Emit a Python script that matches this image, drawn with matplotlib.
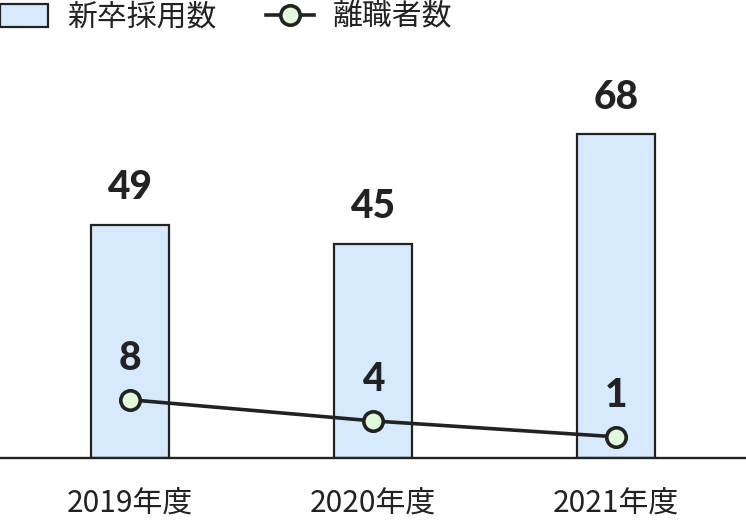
import matplotlib
matplotlib.use("Agg")
import matplotlib.pyplot as plt
from matplotlib.patches import Patch
from matplotlib.lines import Line2D

categories = ["2019年度", "2020年度", "2021年度"]
hires = [49, 45, 68]
leavers = [8, 4, 1]
legend_labels = ["新卒採用数", "離職者数"]

plt.rcParams['font.family'] = ['Noto Sans CJK JP', 'DejaVu Sans']
DARK = "#222222"
BAR_FILL = "#d6e9fd"
MARK_FILL = "#e2f8da"

fig = plt.figure(figsize=(7.46, 5.2), dpi=100)
ax = fig.add_axes([0, 1 - 458 / 520, 1, 418 / 520])
x = list(range(len(categories)))

ax.bar(x, hires, width=0.32, color=BAR_FILL, edgecolor=DARK, linewidth=1.6, zorder=2)
ax.set_xlim(-0.535, 2.535)
ax.set_ylim(0, 87.8)
for s in ["top", "left", "right"]:
    ax.spines[s].set_visible(False)
ax.spines["bottom"].set_color(DARK)
ax.spines["bottom"].set_linewidth(1.7)
ax.set_yticks([])
ax.set_xticks(x)
ax.set_xticklabels(categories, fontsize=21.5, color=DARK)
ax.tick_params(axis="x", length=0, pad=22)

for xi, v in zip(x, hires):
    ax.annotate(str(v), (xi, v), xytext=(0, 26.5), textcoords="offset points",
                ha="center", va="center", fontsize=28, fontweight="black",
                family=["Lato", "DejaVu Sans"], color=DARK)

ax2 = ax.twinx()
ax2.set_ylim(-3, 75.9)
ax2.axis("off")
ax2.plot(x, leavers, color=DARK, linewidth=2.6, marker="o", markersize=14,
         markerfacecolor=MARK_FILL, markeredgecolor=DARK, markeredgewidth=2.6,
         zorder=3, clip_on=False)
for xi, v in zip(x, leavers):
    ax2.annotate(str(v), (xi, v), xytext=(0, 29.5), textcoords="offset points",
                 ha="center", va="center", fontsize=28, fontweight="black",
                 family=["Lato", "DejaVu Sans"], color=DARK)

handles = [
    Patch(facecolor=BAR_FILL, edgecolor=DARK, linewidth=1.6),
    Line2D([0], [0], color=DARK, linewidth=2.6, marker="o", markersize=14,
           markerfacecolor=MARK_FILL, markeredgecolor=DARK, markeredgewidth=2.6),
]
fig.legend(handles, legend_labels, loc="center left", bbox_to_anchor=(0.0, 1 - 17 / 520),
           ncol=2, frameon=False, fontsize=21.5, borderpad=0, borderaxespad=0,
           handlelength=1.6, handleheight=0.8, handletextpad=0.65, columnspacing=1.65,
           labelcolor=DARK)

fig.savefig("out.png", dpi=100)
